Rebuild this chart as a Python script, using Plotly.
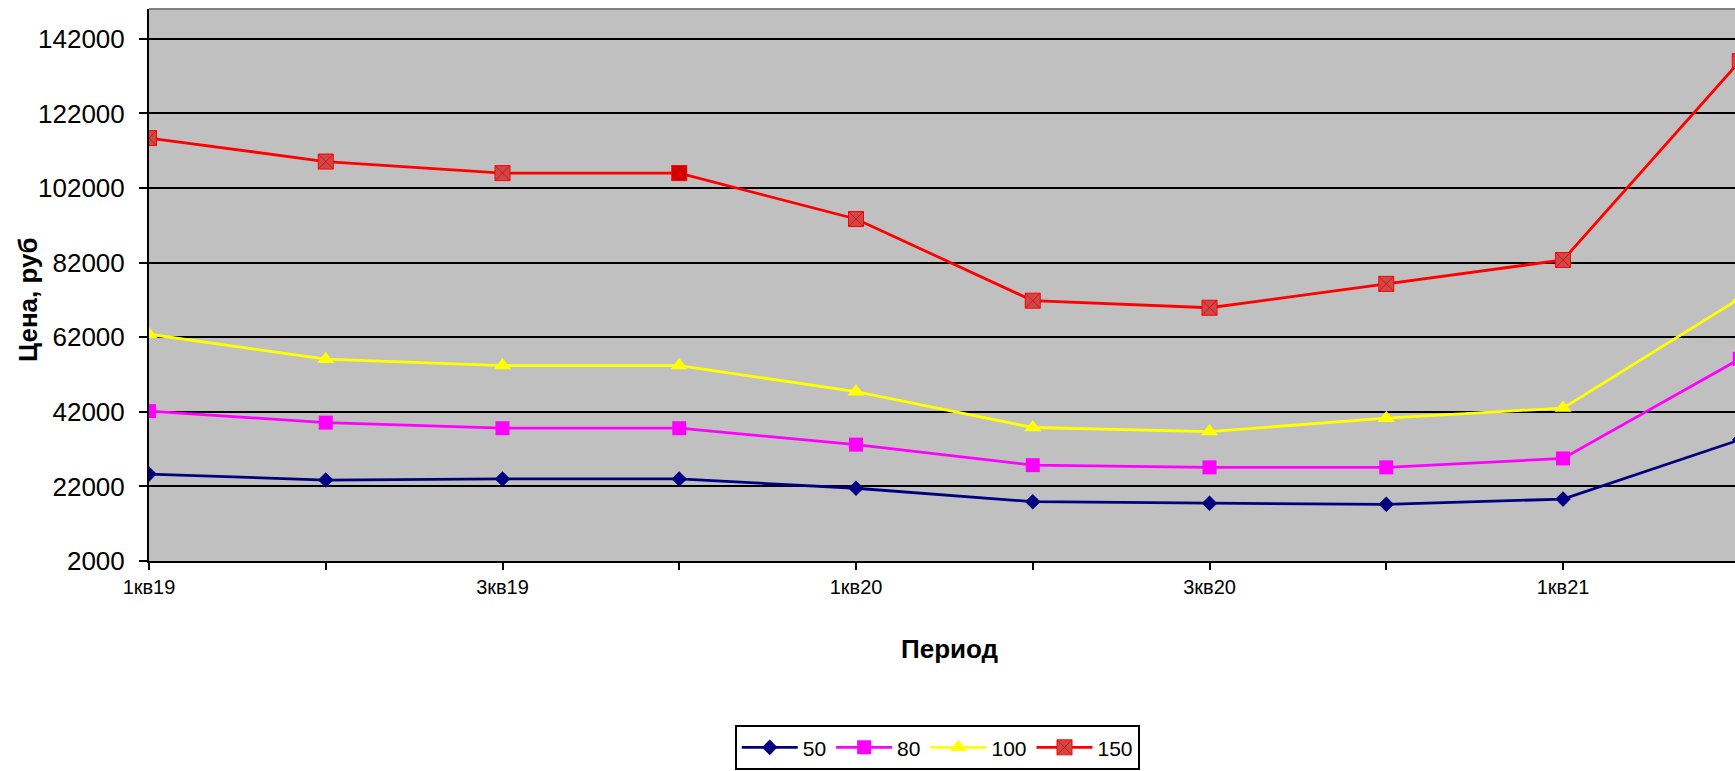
import plotly.graph_objects as go

periods = ["1кв19", "2кв19", "3кв19", "4кв19", "1кв20", "2кв20", "3кв20", "4кв20", "1кв21", "2кв21"]
tick_labels = ["1кв19", "", "3кв19", "", "1кв20", "", "3кв20", "", "1кв21", ""]
y_ticks = [2000, 22000, 42000, 62000, 82000, 102000, 122000, 142000]

s50 = [25300, 23700, 24000, 24000, 21500, 17900, 17500, 17200, 18600, 34500]
s80 = [42200, 39100, 37600, 37600, 33200, 27700, 27100, 27100, 29500, 56200]
s100 = [62800, 56100, 54400, 54400, 47400, 37800, 36700, 40300, 43000, 72400]
s150 = [115400, 109100, 106000, 106000, 93700, 71800, 69900, 76300, 82700, 136000]

FONT = "Liberation Sans, Arial, sans-serif"

fig = go.Figure()
fig.add_trace(go.Scatter(
    x=periods, y=s50, name="50", mode="lines+markers",
    line=dict(color="#000080", width=2.8),
    marker=dict(symbol="diamond", size=12, color="#000080"),
))
fig.add_trace(go.Scatter(
    x=periods, y=s80, name="80", mode="lines+markers",
    line=dict(color="#FF00FF", width=2.8),
    marker=dict(symbol="square", size=14, color="#FF00FF"),
))
fig.add_trace(go.Scatter(
    x=periods, y=s100, name="100", mode="lines+markers",
    line=dict(color="#FFFF00", width=2.8),
    marker=dict(symbol="triangle-up", size=15, color="#FFFF00"),
))
red_marker_fill = ["#C84B4B"] * len(periods)
red_marker_fill[3] = "#CC0000"
fig.add_trace(go.Scatter(
    x=periods, y=s150, name="150", mode="lines+markers",
    line=dict(color="#FF0000", width=2.8),
    marker=dict(symbol="square-x", size=15, color=red_marker_fill,
                line=dict(color="#FF0000", width=1)),
))

fig.update_layout(
    width=1735, height=771,
    margin=dict(l=149, r=0, t=9, b=210),
    paper_bgcolor="white",
    plot_bgcolor="#C0C0C0",
    font=dict(family=FONT, color="black"),
    showlegend=True,
    legend=dict(
        orientation="h", x=0.497, xanchor="center", y=-0.379, yanchor="bottom",
        bordercolor="black", borderwidth=2, bgcolor="white",
        itemwidth=56,
        font=dict(size=21, family=FONT),
    ),
    xaxis=dict(
        type="category",
        range=[0, 8.973],
        tickmode="array", tickvals=periods, ticktext=tick_labels,
        ticks="outside", ticklen=7, tickwidth=2, tickcolor="black",
        showline=True, linecolor="black", linewidth=2,
        showgrid=False, zeroline=False, automargin=False,
        tickfont=dict(size=20, family=FONT),
    ),
    yaxis=dict(
        range=[2000, 150000],
        tickmode="array", tickvals=y_ticks, tickformat="d",
        ticks="outside", ticklen=8, tickwidth=2, tickcolor="black",
        ticklabelstandoff=9,
        showline=True, linecolor="black", linewidth=2,
        showgrid=True, gridcolor="black", gridwidth=2,
        zeroline=False, automargin=False,
        tickfont=dict(size=26, family=FONT),
    ),
    annotations=[
        dict(text="<b>Период</b>", xref="paper", yref="paper", x=0.505, y=-0.16,
             xanchor="center", yanchor="middle", showarrow=False,
             font=dict(size=26, family=FONT, color="black")),
        dict(text="<b>Цена, руб</b>", xref="paper", yref="paper", x=-0.0763, y=0.473,
             xanchor="center", yanchor="middle", textangle=-90, showarrow=False,
             font=dict(size=26, family=FONT, color="black")),
    ],
    shapes=[dict(type="line", xref="paper", yref="paper", x0=0, x1=1, y0=1, y1=1,
                 line=dict(color="#808080", width=2))],
)

fig.write_html("out.html", config={"displayModeBar": False},
               post_script="document.body.style.margin='0px';")
